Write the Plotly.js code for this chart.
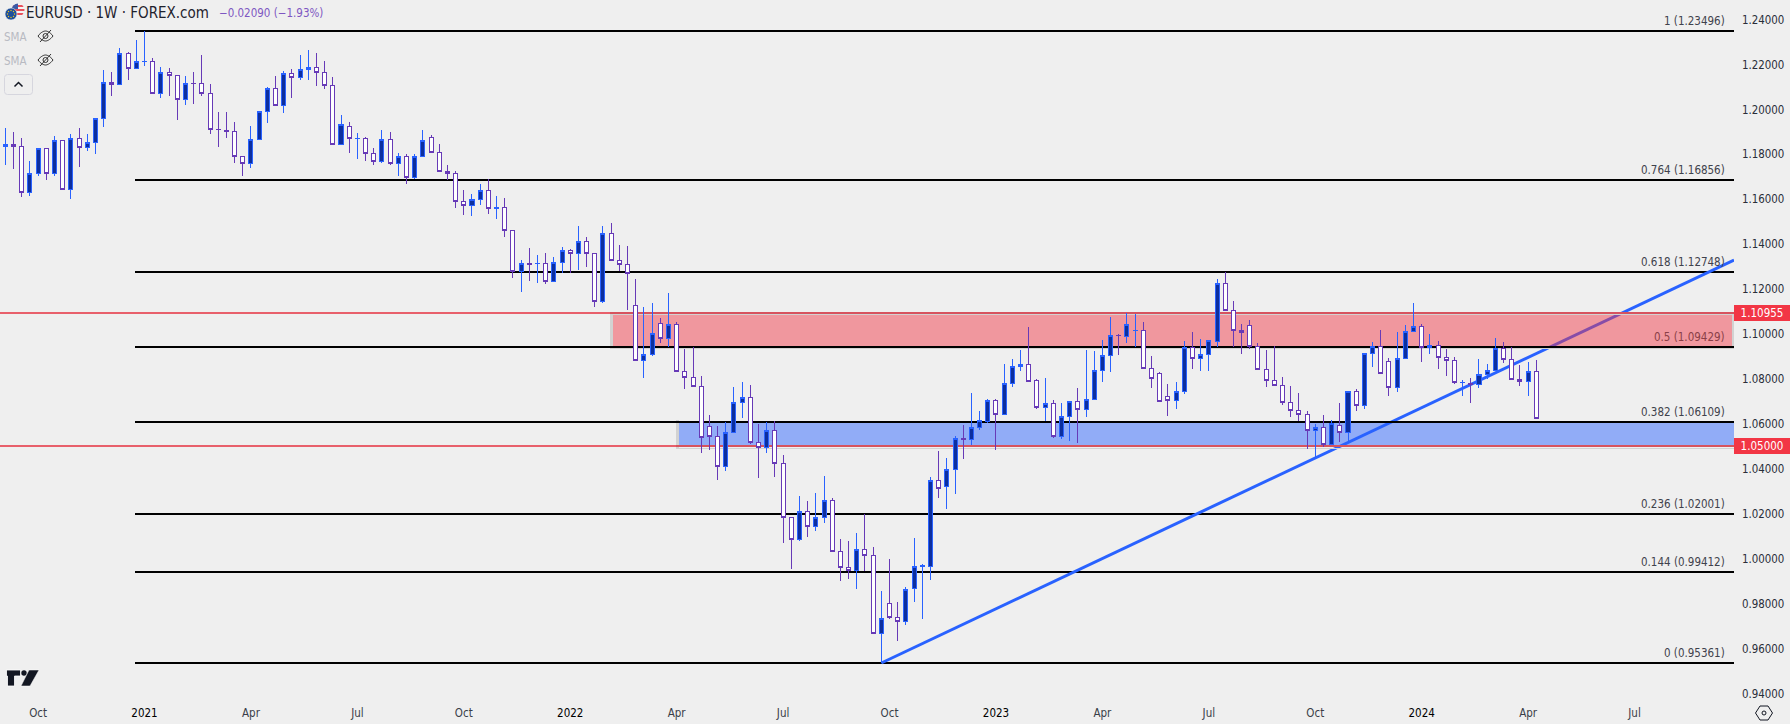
<!DOCTYPE html>
<html><head><meta charset="utf-8">
<script src="https://cdn.plot.ly/plotly-3.0.1.min.js"></script>
<style>html,body{margin:0;padding:0;background:#efefef;overflow:hidden}#chart{width:1790px;height:724px}
.shapelayer path{shape-rendering:crispEdges}
.shapelayer path[style*="stroke: rgb(41, 98, 255)"]{shape-rendering:auto}
.trace.boxes path{shape-rendering:crispEdges}
</style>
</head><body><div id="chart"></div>
<script>
const FONT = '"DejaVu Sans Condensed","DejaVu Sans",sans-serif';
const firstWeek = '2020-09-07';
const opens = [
1.1836,1.1845,1.1836,1.1631,1.1716,1.1827,1.1716,1.1863,1.1645,1.1872,
1.1832,1.1854,1.1961,1.2121,1.2112,1.2250,1.2183,1.2213,1.2215,1.2072,
1.2166,1.2152,1.2045,1.2117,1.2117,1.2072,1.1912,1.1907,1.1903,1.1792,
1.1760,1.1867,1.1992,1.2094,1.2019,1.2161,1.2143,1.2179,1.2188,1.2166,
1.2108,1.1845,1.1925,1.1872,1.1872,1.1805,1.1769,1.1867,1.1760,1.1792,
1.1698,1.1792,1.1876,1.1809,1.1725,1.1716,1.1591,1.1574,1.1600,1.1640,
1.1560,1.1565,1.1462,1.1278,1.1315,1.1314,1.1315,1.1235,1.1320,1.1373,
1.1358,1.1413,1.1360,1.1146,1.1449,1.1329,1.1311,1.1128,1.0884,1.0910,
1.1048,1.0982,1.1044,1.0835,1.0808,1.0768,1.0590,1.0545,1.0412,1.0563,
1.0697,1.0719,1.0519,1.0496,1.0572,1.0425,1.0185,1.0087,1.0211,1.0145,
1.0185,1.0260,1.0033,0.9962,0.9949,1.0042,1.0015,0.9668,0.9802,0.9740,
0.9722,0.9869,0.9967,0.9967,1.0349,1.0323,1.0398,1.0536,1.0532,1.0585,
1.0612,1.0705,1.0643,1.0781,1.0857,1.0866,1.0795,1.0674,1.0692,1.0545,
1.0634,1.0701,1.0665,1.0710,1.0839,1.0906,1.0995,1.0990,1.1015,1.1017,
1.0848,1.0826,1.0723,1.0705,1.0746,1.0941,1.0892,1.0910,1.0968,1.1226,
1.1106,1.1017,1.1039,1.0946,1.0843,1.0795,1.0772,1.0697,1.0661,1.0643,
1.0572,1.0585,1.0510,1.0594,1.0563,1.0746,1.0683,1.0915,1.0946,1.0879,
1.0763,1.0892,1.1013,1.1035,1.0941,1.0950,1.0897,1.0884,1.0784,1.0781,
1.0777,1.0821,1.0839,1.0937,1.0888,1.0799,1.0790,1.0835];
const closes = [
1.1845,1.1835,1.1631,1.1716,1.1827,1.1716,1.1863,1.1645,1.1872,1.1832,
1.1854,1.1961,1.2121,1.2112,1.2250,1.2183,1.2215,1.2215,1.2072,1.2166,
1.2152,1.2045,1.2117,1.2115,1.2072,1.1912,1.1910,1.1903,1.1792,1.1760,
1.1867,1.1992,1.2094,1.2019,1.2161,1.2143,1.2179,1.2188,1.2166,1.2108,
1.1845,1.1934,1.1872,1.1873,1.1805,1.1769,1.1867,1.1760,1.1792,1.1698,
1.1792,1.1863,1.1809,1.1725,1.1716,1.1591,1.1574,1.1600,1.1640,1.1560,
1.1563,1.1462,1.1278,1.1315,1.1311,1.1315,1.1235,1.1320,1.1373,1.1358,
1.1413,1.1358,1.1146,1.1449,1.1329,1.1311,1.1271,1.0884,1.0910,1.1004,
1.0982,1.1044,1.0835,1.0808,1.0768,1.0541,1.0545,1.0412,1.0563,1.0697,
1.0719,1.0519,1.0496,1.0572,1.0425,1.0185,1.0087,1.0211,1.0145,1.0185,
1.0260,1.0033,0.9962,0.9949,1.0042,1.0015,0.9668,0.9735,0.9740,0.9722,
0.9864,0.9967,0.9968,1.0349,1.0314,1.0398,1.0536,1.0532,1.0585,1.0616,
1.0705,1.0643,1.0781,1.0857,1.0866,1.0790,1.0673,1.0692,1.0545,1.0634,
1.0701,1.0665,1.0710,1.0839,1.0906,1.0995,1.0993,1.1044,1.1017,1.0848,
1.0803,1.0701,1.0705,1.0746,1.0941,1.0892,1.0910,1.0973,1.1226,1.1106,
1.1017,1.1008,1.0946,1.0843,1.0795,1.0772,1.0697,1.0661,1.0643,1.0572,
1.0585,1.0510,1.0603,1.0563,1.0746,1.0683,1.0915,1.0946,1.0826,1.0763,
1.0892,1.1013,1.1035,1.0941,1.0950,1.0897,1.0884,1.0786,1.0786,1.0777,
1.0821,1.0839,1.0937,1.0888,1.0799,1.0790,1.0835,1.0625];
const highs = [
1.1916,1.1898,1.1872,1.1769,1.1827,1.1827,1.1882,1.1863,1.1890,1.1916,
1.1890,1.1961,1.2176,1.2167,1.2272,1.2255,1.2310,1.2350,1.2228,1.2188,
1.2183,1.2152,1.2148,1.2167,1.2241,1.2112,1.1988,1.1988,1.1943,1.1792,
1.1925,1.1992,1.2099,1.2148,1.2170,1.2179,1.2241,1.2264,1.2252,1.2215,
1.2143,1.1974,1.1943,1.1894,1.1876,1.1827,1.1907,1.1898,1.1805,1.1801,
1.1801,1.1907,1.1885,1.1845,1.1752,1.1725,1.1640,1.1622,1.1667,1.1689,
1.1615,1.1605,1.1462,1.1329,1.1384,1.1351,1.1360,1.1342,1.1387,1.1381,
1.1480,1.1431,1.1360,1.1480,1.1493,1.1395,1.1391,1.1244,1.1120,1.1137,
1.1071,1.1182,1.1053,1.0933,1.0941,1.0814,1.0640,1.0591,1.0608,1.0763,
1.0786,1.0772,1.0599,1.0608,1.0612,1.0461,1.0185,1.0278,1.0256,1.0292,
1.0367,1.0271,1.0087,1.0078,1.0113,1.0198,1.0051,0.9855,0.9998,0.9806,
0.9873,1.0091,0.9975,1.0363,1.0478,1.0447,1.0545,1.0594,1.0737,1.0657,
1.0710,1.0710,1.0866,1.0888,1.0928,1.1031,1.0799,1.0803,1.0705,1.0692,
1.0701,1.0759,1.0928,1.0924,1.0973,1.1075,1.1000,1.1093,1.1088,1.1053,
1.0901,1.0830,1.0777,1.0786,1.0968,1.1008,1.0977,1.0973,1.1244,1.1277,
1.1146,1.1044,1.1062,1.0959,1.0928,1.0946,1.0808,1.0768,1.0737,1.0657,
1.0599,1.0639,1.0616,1.0692,1.0746,1.0754,1.0915,1.0964,1.1017,1.0892,
1.1008,1.1039,1.1137,1.1044,1.1000,1.0968,1.0933,1.0897,1.0795,1.0803,
1.0888,1.0866,1.0982,1.0964,1.0941,1.0861,1.0875,1.0884];
const lows = [
1.1753,1.1735,1.1612,1.1617,1.1706,1.1686,1.1706,1.1645,1.1603,1.1746,
1.1817,1.1803,1.1924,1.2062,1.2112,1.2131,1.2183,1.2195,1.2072,1.2053,
1.2062,1.1955,1.2022,1.2026,1.2062,1.1892,1.1835,1.1875,1.1763,1.1706,
1.1741,1.1867,1.1941,1.2019,1.1986,1.2053,1.2130,1.2131,1.2106,1.2093,
1.1845,1.1845,1.1808,1.1781,1.1772,1.1752,1.1763,1.1755,1.1706,1.1667,
1.1692,1.1787,1.1805,1.1725,1.1685,1.1563,1.1532,1.1528,1.1574,1.1536,
1.1514,1.1434,1.1252,1.1189,1.1238,1.1229,1.1225,1.1235,1.1274,1.1274,
1.1287,1.1301,1.1122,1.1140,1.1329,1.1280,1.1109,1.0884,1.0806,1.0904,
1.0962,1.0944,1.0835,1.0757,1.0763,1.0472,1.0486,1.0352,1.0392,1.0563,
1.0628,1.0510,1.0361,1.0472,1.0366,1.0072,0.9956,1.0081,1.0099,1.0125,
1.0161,1.0033,0.9903,0.9912,0.9867,0.9944,0.9668,0.9536,0.9731,0.9636,
0.9707,0.9809,0.9734,0.9907,1.0272,1.0223,1.0290,1.0446,1.0507,1.0575,
1.0603,1.0484,1.0643,1.0766,1.0838,1.0790,1.0668,1.0612,1.0539,1.0535,
1.0526,1.0517,1.0633,1.0710,1.0789,1.0833,1.0909,1.0962,1.0941,1.0848,
1.0762,1.0701,1.0637,1.0668,1.0735,1.0846,1.0838,1.0838,1.0941,1.1106,
1.0941,1.0913,1.0933,1.0843,1.0766,1.0772,1.0686,1.0633,1.0612,1.0490,
1.0455,1.0499,1.0510,1.0522,1.0522,1.0659,1.0668,1.0855,1.0826,1.0726,
1.0744,1.0892,1.1013,1.0878,1.0913,1.0846,1.0815,1.0780,1.0726,1.0695,
1.0762,1.0799,1.0839,1.0873,1.0799,1.0771,1.0726,1.0625];
const fibRatios = ['1','0.764','0.618','0.5','0.382','0.236','0.144','0'];
const fibPrices = [1.23496,1.16856,1.12748,1.09429,1.06109,1.02001,0.99412,0.95361];
const redLevels = [1.10955,1.05000];
const tickDates = ['2020-10-05','2021-01-04','2021-04-05','2021-07-05','2021-10-04','2022-01-03','2022-04-04','2022-07-04','2022-10-03','2023-01-02','2023-04-03','2023-07-03','2023-10-02','2024-01-01','2024-04-01','2024-07-01'];
const tickLabels = ['Oct','2021','Apr','Jul','Oct','2022','Apr','Jul','Oct','2023','Apr','Jul','Oct','2024','Apr','Jul'];
const trendStartPrice = 0.95361, trendEndPrice = 1.1330;

const DAY = 864e5, WEEK = 7*DAY;
const t0 = Date.parse(firstWeek+'T00:00:00Z');
const iso = ms => new Date(ms).toISOString().slice(0,19).replace('T',' ');
const dates = opens.map((_,i)=>iso(t0+i*WEEK));

// plot geometry
const W = 1734, H = 700;
const barPx = (1536.3-5.33)/187;
const xAt = px => iso(t0 + (px-5.33)/barPx*WEEK);
const pAt = py => 0.95361 + (663-py)/2246.3;
const xRange = [xAt(0), xAt(W)];
const yRange = [pAt(H), pAt(0)];
const px = x => x/W, py = y => 1-y/H;

const RED='rgba(242,54,69,0.47)', BLUE='rgba(41,98,255,0.48)';
const lineShape = (x0,x1,y0,y1,color,width)=>({type:'line',layer:'below',xref:'x',yref:'y',x0,x1,y0,y1,line:{color,width}});
const rectShape = (x0,x1,y0,y1,fill)=>({type:'rect',layer:'below',xref:'x',yref:'y',x0,x1,y0,y1,fillcolor:fill,line:{width:0}});
const fibStart = xAt(135.3);
const shapes = [];
fibPrices.forEach((p,i)=>{ if(i!==3&&i!==4) shapes.push(lineShape(fibStart,xRange[1],p,p,'#000',2)); });
shapes.push(lineShape(dates[107],xRange[1],trendStartPrice,trendEndPrice,'#2962ff',3));
// zones
const GREY='#d2d2d2';
shapes.push(rectShape(xAt(613),xAt(1732),pAt(315),fibPrices[3],RED));
shapes.push(lineShape(xAt(611.5),xAt(611.5),pAt(313),pAt(349),GREY,3));
shapes.push(lineShape(xAt(1733),xAt(1733),pAt(313),pAt(349),GREY,2));
shapes.push(lineShape(xAt(610),xAt(W),pAt(348.6),pAt(348.6),GREY,1));
shapes.push(lineShape(xAt(610),xAt(W),pAt(314.6),pAt(314.6),GREY,1));
shapes.push(rectShape(xAt(679),xRange[1],redLevels[1],pAt(423),BLUE));
shapes.push(lineShape(xAt(677.5),xAt(677.5),pAt(420),pAt(448),GREY,3));
shapes.push(lineShape(xAt(676),xAt(W),pAt(448),pAt(448),GREY,1));
[fibPrices[3],fibPrices[4]].forEach(p=>shapes.push(lineShape(fibStart,xRange[1],p,p,'#000',2)));
redLevels.forEach(p=>shapes.push(lineShape(xRange[0],xRange[1],p,p,'#e8606b',2)));
shapes.push(lineShape(xAt(610),xRange[1],redLevels[0],redLevels[0],'#d7535e',2));
shapes.push(lineShape(xAt(676),xRange[1],redLevels[1],redLevels[1],'#d7535e',2));

const ann = [];
const txt = (x,y,text,size,color,anchor='left',extra={})=>ann.push(Object.assign({xref:'paper',yref:'paper',x:px(x),y:py(y),text,showarrow:false,xanchor:anchor,yanchor:'middle',font:{family:FONT,size,color},borderpad:0},extra));
fibRatios.forEach((r,i)=>ann.push({xref:'paper',yref:'y',x:px(1726),y:fibPrices[i],yshift:10,text:`${r} (${fibPrices[i].toFixed(5)})`,showarrow:false,xanchor:'right',yanchor:'middle',borderpad:0,font:{family:FONT,size:11.5,color:i===3?'#8a3f47':'#3f424c'}}));
txt(25,13,'EURUSD · 1W · FOREX.com',15,'#1e222d');
txt(218,13,'−0.02090 (−1.93%)',11.5,'#7e57c2');
txt(3,37,'SMA',11.5,'#b8bac2');
txt(3,61,'SMA',11.5,'#b8bac2');
redLevels.forEach(p=>ann.push({xref:'paper',yref:'y',x:1,y:p,xanchor:'left',yanchor:'middle',width:56,height:16,bgcolor:'#f23645',align:'center',valign:'middle',showarrow:false,borderpad:0,borderwidth:0,text:p.toFixed(5),font:{family:FONT,size:11.5,color:'#fff'}}));

const svgUri = s => 'data:image/svg+xml;utf8,'+encodeURIComponent(s);
const icon = (x,y,w,h,inner)=>({source:svgUri(`<svg xmlns="http://www.w3.org/2000/svg" width="${w}" height="${h}" viewBox="0 0 ${w} ${h}">${inner}</svg>`),xref:'paper',yref:'paper',x:px(x),y:py(y),sizex:w/W,sizey:h/H,xanchor:'left',yanchor:'top',sizing:'stretch',layer:'above'});
const eye = `<g fill="none" stroke="#333" stroke-width="1"><path d="M1 8c3-4 6-5 7.500-5S13 4 16 8c-3 4-6 5-7.500 5S4 12 1 8z"/><circle cx="8.500" cy="8" r="2.500"/><path d="M3 14L14 2"/></g>`;
const images = [
 icon(3,2,22,18,`<circle cx="15" cy="8" r="6.500" fill="#f5f5f5"/><clipPath id="c"><circle cx="15" cy="8" r="6.500"/></clipPath><g clip-path="url(#c)"><path d="M8 3h14v2H8zM8 7h14v2H8zM8 11h14v2H8z" fill="#e8505b"/><rect x="8" y="1" width="7" height="6" fill="#3c5aa6"/></g><circle cx="8" cy="12" r="6" fill="#1e4f9c" stroke="#efefef" stroke-width=".6"/><g fill="#f0c419"><circle cx="8" cy="8.500" r=".7"/><circle cx="8" cy="15.500" r=".7"/><circle cx="4.500" cy="12" r=".7"/><circle cx="11.500" cy="12" r=".7"/><circle cx="5.500" cy="9.500" r=".7"/><circle cx="10.500" cy="9.500" r=".7"/><circle cx="5.500" cy="14.500" r=".7"/><circle cx="10.500" cy="14.500" r=".7"/></g>`),
 icon(37,28,17,16,eye),
 icon(37,52,17,16,eye),
 icon(4,74,30,22,`<rect x=".5" y=".5" width="28" height="20" rx="3" fill="#efefef" stroke="#d6d6de"/><path d="M10.500 12.500L14.500 8.500L18.500 12.500" fill="none" stroke="#131722" stroke-width="1.500"/>`),
 icon(5,668,36,20,`<path d="M1 2h14v6h-6v10h-7V8H1z" fill="#131722" stroke="#fff" stroke-width=".8" transform="translate(.5 0)"/><circle cx="19" cy="5" r="2.700" fill="#131722"/><path d="M24 2h10l-9 16H16z" fill="#131722" stroke="#fff" stroke-width=".5"/>`),
 icon(1755,704,18,18,`<path d="M5 2h8l4.500 7L13 16H5L.5 9z" fill="none" stroke="#131722" stroke-width="1"/><circle cx="9" cy="9" r="2" fill="none" stroke="#131722" stroke-width="1"/>`)
];

const trace = {type:'candlestick',x:dates,open:opens,high:highs,low:lows,close:closes,hoverinfo:'skip',whiskerwidth:0,
 increasing:{line:{color:'#2962ff',width:1},fillcolor:'#0d2f9e'},
 decreasing:{line:{color:'#673ab7',width:1},fillcolor:'#ffffff'}};

const layout = {
 width:1790,height:724,paper_bgcolor:'#efefef',plot_bgcolor:'#efefef',showlegend:false,dragmode:false,
 margin:{l:0,r:56,t:0,b:24,pad:0},
 font:{family:FONT,size:11,color:'#222'},
 xaxis:{type:'date',range:xRange,rangeslider:{visible:false},showgrid:false,zeroline:false,showline:false,ticks:'',tickmode:'array',tickvals:tickDates,ticktext:tickLabels.map(t=>/^\d/.test(t)?`<span style="color:#000">${t}</span>`:t),tickangle:0,ticklabelstandoff:4,tickfont:{family:FONT,size:11.5,color:'#3a3e48'}},
 yaxis:{side:'right',range:yRange,showgrid:false,zeroline:false,showline:false,ticks:'',tick0:0.94,dtick:0.02,tickformat:'.5f',ticklabelstandoff:7,tickfont:{family:FONT,size:11.4,color:'#2a2e39'}},
 shapes,annotations:ann,images
};
Plotly.newPlot('chart',[trace],layout,{staticPlot:true,displayModeBar:false});
</script></body></html>
